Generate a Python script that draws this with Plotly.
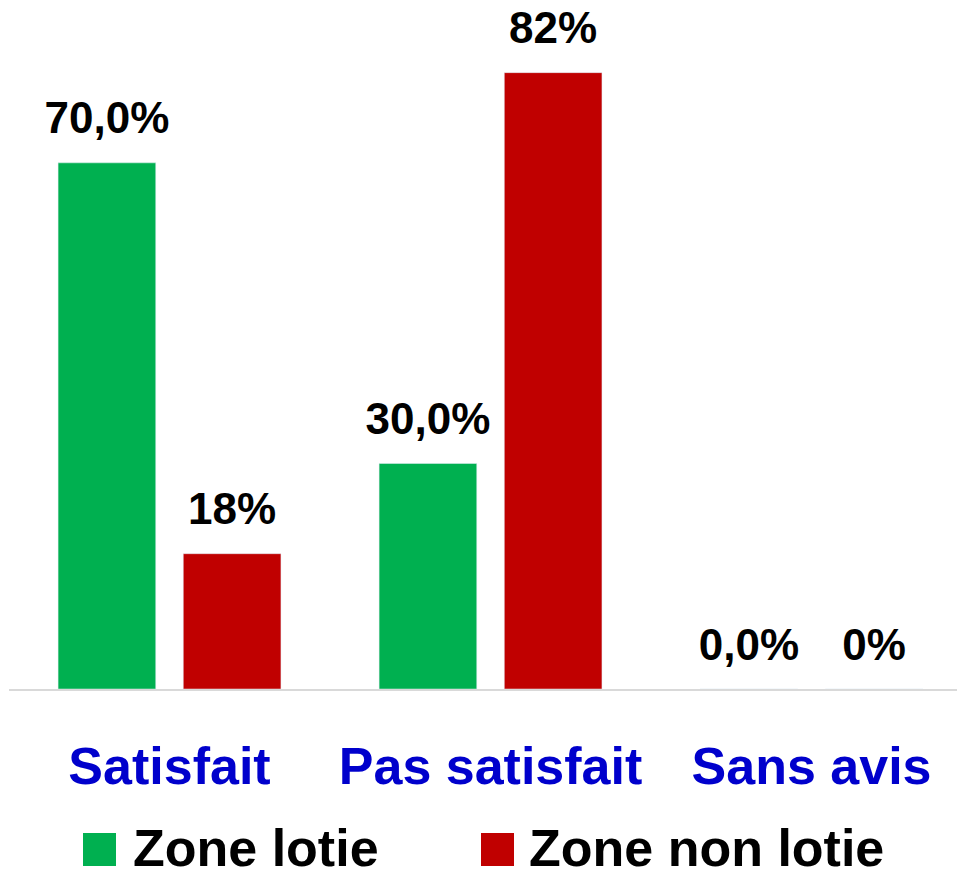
import plotly.graph_objects as go

categories = ["Satisfait", "Pas satisfait", "Sans avis"]
series_names = ["Zone lotie", "Zone non lotie"]
zone_lotie = [70.0, 30.0, 0.0]
zone_non_lotie = [18, 82, 0]
labels_lotie = ["70,0%", "30,0%", "0,0%"]
labels_non_lotie = ["18%", "82%", "0%"]

GREEN = "#00B050"
RED = "#C00000"
BLUE = "#0000CC"
FONT = "Liberation Sans, Arial, sans-serif"

# page body has an 8px default margin, so the figure is sized to fit the window
W, H = 957, 866
L, R, T, B = 1, 0, 0, 185

series = [
    (series_names[0], zone_lotie, labels_lotie, GREEN),
    (series_names[1], zone_non_lotie, labels_non_lotie, RED),
]

fig = go.Figure()
for i, (name, vals, labs, col) in enumerate(series):
    fig.add_trace(go.Bar(
        x=categories, y=vals, name=name, marker_color=col,
        offsetgroup=str(i), showlegend=False, hoverinfo="x+y",
    ))
for i, (name, vals, labs, col) in enumerate(series):
    # value labels, grouped the same way as the bars
    fig.add_trace(go.Scatter(
        x=categories, y=vals, mode="markers+text", text=labs,
        textposition="top center", offsetgroup=str(i),
        marker=dict(size=28, opacity=0), cliponaxis=False,
        textfont=dict(family=FONT, size=44, color="black", weight="bold"),
        showlegend=False, hoverinfo="skip",
    ))

def px_x(p):
    return (p - L) / (W - L - R)

def px_y(p):
    return (H - B - p) / (H - T - B)

# manual legend (large square swatches), positions in figure pixels
legend_items = [(75, 123, GREEN), (473, 519, RED)]
for (sq_x, tx_x, col), name in zip(legend_items, series_names):
    fig.add_shape(type="rect", xref="paper", yref="paper",
                  x0=px_x(sq_x), x1=px_x(sq_x + 33), y0=px_y(858), y1=px_y(825),
                  fillcolor=col, line_width=0)
    fig.add_annotation(text=name, xref="paper", yref="paper",
                       x=px_x(tx_x), y=px_y(840), xanchor="left", yanchor="middle",
                       showarrow=False,
                       font=dict(family=FONT, size=52, color="black", weight="bold"))

fig.update_layout(
    width=W, height=H,
    margin=dict(l=L, r=R, t=T, b=B, pad=0),
    plot_bgcolor="white", paper_bgcolor="white",
    barmode="group", bargap=0.22, bargroupgap=0.22,
    scattermode="group", scattergap=0.22,
    xaxis=dict(range=[-0.5, 2.478], showline=True, linecolor="#D9D9D9", linewidth=2,
               ticks="outside", ticklen=31, tickcolor="rgba(0,0,0,0)",
               tickangle=0, automargin=False,
               tickfont=dict(family=FONT, size=52, color=BLUE, weight="bold"),
               showgrid=False, fixedrange=True),
    yaxis=dict(range=[0, 90.6], visible=False, showgrid=False, zeroline=False,
               automargin=False),
)

fig.write_html("out.html")
